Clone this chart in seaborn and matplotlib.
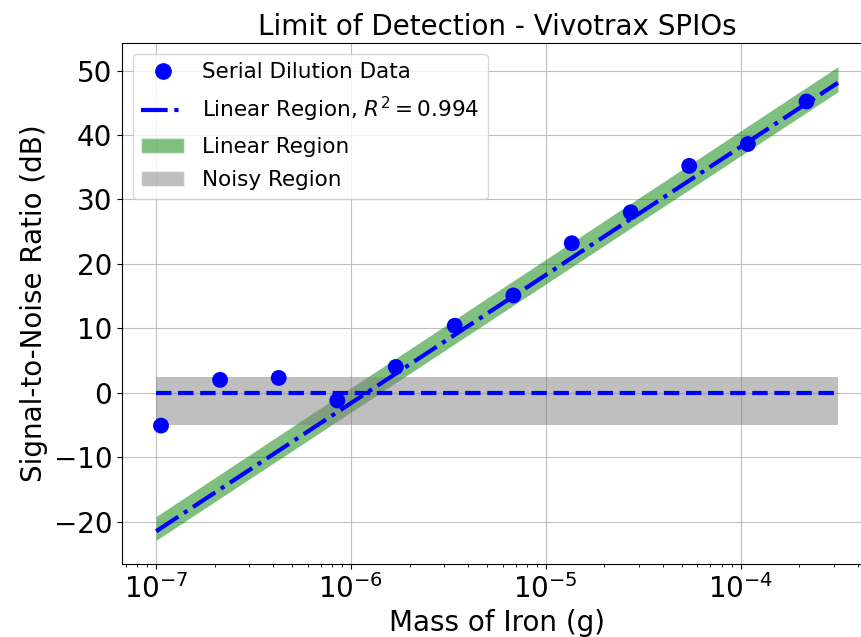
import numpy as np
import pandas as pd
import seaborn as sns
import matplotlib.pyplot as plt
from matplotlib.patches import Patch
from matplotlib.lines import Line2D

sns.set_style("ticks", rc={'axes.edgecolor': 'black', 'text.color': 'black',
                           'axes.labelcolor': 'black', 'xtick.color': 'black',
                           'ytick.color': 'black'})
plt.rcParams['font.family'] = ['DejaVu Sans']

# serial dilution measurements
mass_g = [1.06e-7, 2.13e-7, 4.26e-7, 8.52e-7, 1.70e-6, 3.41e-6,
          6.82e-6, 1.36e-5, 2.73e-5, 5.45e-5, 1.09e-4, 2.18e-4]
snr_db = [-5.1, 2.0, 2.3, -1.2, 4.0, 10.4, 15.1, 23.2, 28.0, 35.2, 38.6, 45.2]

# linear fit and its band (end points)
fit_x = [1e-7, 3.16e-4]
fit_y = [-21.5, 48.1]
band_lo = [-22.9, 46.7]
band_hi = [-19.2, 50.6]

# noisy region
noise_x = [1e-7, 3.16e-4]
noise_lo = -5.0
noise_hi = 2.5
r2 = 0.994

df = pd.DataFrame({'mass': mass_g, 'snr': snr_db})
fit_df = pd.DataFrame({'mass': fit_x, 'snr': fit_y})
zero_df = pd.DataFrame({'mass': noise_x, 'snr': [0, 0]})

fig = plt.figure(figsize=(8.61, 6.37), dpi=100)
ax = fig.add_axes([0.1417, 0.1146, 0.8711, 0.8179])

ax.fill_between(fit_x, band_lo, band_hi, color='green', alpha=0.5, lw=0)
ax.fill_between(noise_x, noise_lo, noise_hi, color='gray', alpha=0.5, lw=0)

sns.lineplot(data=fit_df, x='mass', y='snr', ax=ax, color='blue', lw=3,
             linestyle='-.')
sns.lineplot(data=zero_df, x='mass', y='snr', ax=ax, color='blue', lw=3,
             linestyle='--')
sns.scatterplot(data=df, x='mass', y='snr', ax=ax, color='blue', s=130,
                edgecolor='none', zorder=3)

ax.set_xscale('log')
ax.grid(True, which='major', color='#b0b0b0', lw=0.8, alpha=0.8)
ax.set_yticks([-20, -10, 0, 10, 20, 30, 40, 50])
ax.tick_params(labelsize=20)
ax.set_xlabel('Mass of Iron (g)', fontsize=20)
ax.set_ylabel('Signal-to-Noise Ratio (dB)', fontsize=20)
ax.set_title('Limit of Detection - Vivotrax SPIOs', fontsize=20)

handles = [
    Line2D([], [], marker='o', color='blue', ls='none', markersize=11),
    Line2D([], [], color='blue', ls='-.', lw=3),
    Patch(facecolor='green', alpha=0.5),
    Patch(facecolor='gray', alpha=0.5),
]
labels = ['Serial Dilution Data', 'Linear Region, $R^2 = %.3f$' % r2,
          'Linear Region', 'Noisy Region']
ax.legend(handles, labels, loc='upper left', fontsize=15.5, labelspacing=0.6)

fig.savefig('out.png', dpi=100)
